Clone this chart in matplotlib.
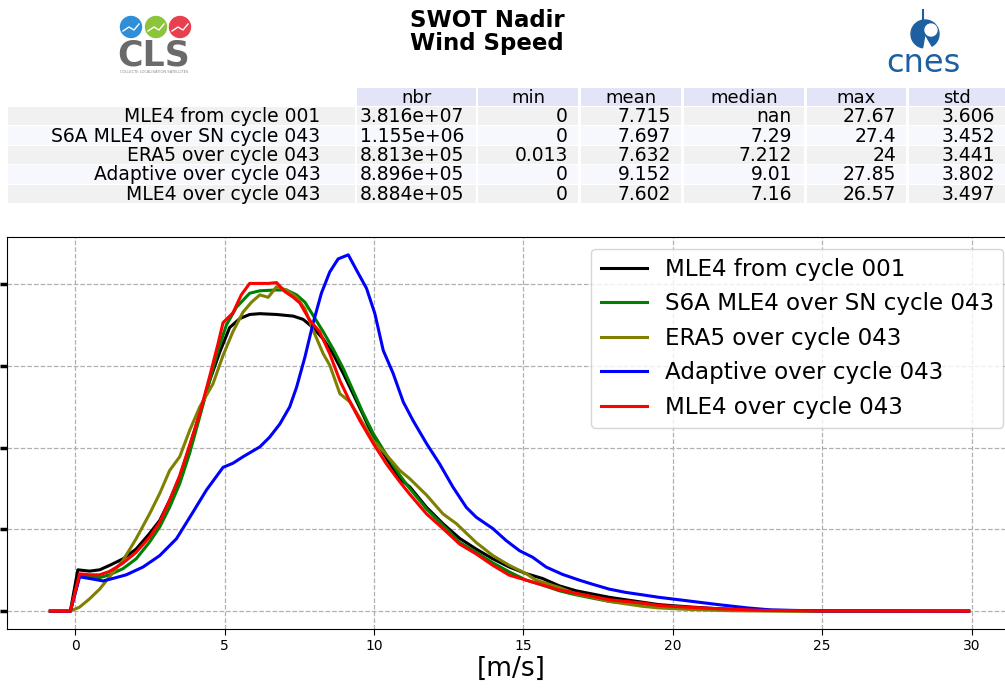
import matplotlib
matplotlib.use("Agg")
import matplotlib.pyplot as plt
from matplotlib.patches import Rectangle, Circle, Wedge

# ---- stats table ----
ROW_LABELS = ["MLE4 from cycle 001", "S6A MLE4 over SN cycle 043", "ERA5 over cycle 043",
              "Adaptive over cycle 043", "MLE4 over cycle 043"]
COLS = ["nbr", "min", "mean", "median", "max", "std"]
NBR = ["3.816e+07", "1.155e+06", "8.813e+05", "8.896e+05", "8.884e+05"]
MINS = ["0", "0", "0.013", "0", "0"]
MEANS = ["7.715", "7.697", "7.632", "9.152", "7.602"]
MEDIANS = ["nan", "7.29", "7.212", "9.01", "7.16"]
MAXS = ["27.67", "27.4", "24", "27.85", "26.57"]
STDS = ["3.606", "3.452", "3.441", "3.802", "3.497"]

# ---- wind speed histograms (% per bin) ----
x_mle4_001 = [-0.83, -0.16, 0.09, 0.48, 0.82, 1.15, 1.6, 2.04, 2.49, 2.83, 3.16, 3.5, 3.83, 4.17, 4.5,
              4.84, 5.17, 5.51, 5.84, 6.18, 6.74, 7.3, 7.63, 7.96, 8.3, 8.63, 8.97, 9.3, 9.64, 9.98,
              10.42, 10.87, 11.2, 11.76, 12.31, 12.87, 13.42, 13.98, 14.53, 15.09, 15.64, 16.2, 16.76,
              17.31, 17.87, 18.42, 18.98, 19.53, 20.64, 21.53, 23.0, 25.0, 29.9]
y_mle4_001 = [0, 0, 0.506, 0.49, 0.506, 0.56, 0.64, 0.76, 0.95, 1.11, 1.355, 1.64, 2.01, 2.42, 2.82,
              3.17, 3.47, 3.58, 3.63, 3.64, 3.63, 3.61, 3.57, 3.47, 3.33, 3.15, 2.91, 2.66, 2.40, 2.13,
              1.87, 1.62, 1.52, 1.27, 1.07, 0.89, 0.76, 0.64, 0.54, 0.46, 0.40, 0.31, 0.25,
              0.21, 0.17, 0.14, 0.11, 0.08, 0.05, 0.03, 0.012, 0.003, 0]

x_s6a = [-0.83, -0.16, 0.15, 0.48, 0.82, 1.15, 1.6, 2.04, 2.49, 2.83, 3.16, 3.5, 3.83, 4.17, 4.5,
         4.78, 5.06, 5.4, 5.84, 6.18, 6.74, 7.07, 7.41, 7.69, 7.96, 8.3, 8.63, 8.97, 9.3, 9.64,
         9.98, 10.42, 10.87, 11.2, 11.76, 12.31, 12.87, 13.42, 13.98, 14.53, 15.09, 15.64, 16.2,
         16.76, 17.31, 17.87, 18.42, 18.98, 19.53, 20.64, 21.53, 23.0, 25.0, 29.9]
y_s6a = [0, 0, 0.44, 0.42, 0.41, 0.445, 0.52, 0.64, 0.845, 1.03, 1.27, 1.56, 1.93, 2.38, 2.82,
         3.19, 3.50, 3.72, 3.89, 3.92, 3.93, 3.93, 3.87, 3.78, 3.62, 3.42, 3.21, 2.97, 2.70, 2.42,
         2.17, 1.91, 1.66, 1.50, 1.25, 1.05, 0.84, 0.72, 0.59, 0.48, 0.38, 0.32, 0.25,
         0.20, 0.16, 0.12, 0.10, 0.07, 0.05, 0.03, 0.02, 0.008, 0.002, 0]

x_era5 = [-0.83, -0.16, 0.15, 0.48, 0.82, 1.15, 1.6, 2.04, 2.49, 2.83, 3.16, 3.5, 3.83, 4.17, 4.61,
          4.95, 5.28, 5.62, 5.9, 6.18, 6.46, 6.74, 7.07, 7.41, 7.69, 7.96, 8.3, 8.52, 8.86, 9.2,
          9.53, 9.98, 10.42, 10.87, 11.2, 11.76, 12.31, 12.76, 13.42, 13.98, 14.53, 15.09, 15.42,
          16.2, 16.76, 17.31, 17.87, 18.42, 18.98, 19.53, 20.64, 22.0, 24.0, 29.9]
y_era5 = [0, 0, 0.05, 0.15, 0.27, 0.42, 0.62, 0.886, 1.19, 1.44, 1.72, 1.89, 2.21, 2.50, 2.78,
          3.13, 3.42, 3.66, 3.78, 3.87, 3.84, 3.97, 3.93, 3.84, 3.70, 3.44, 3.15, 3.01, 2.66, 2.56,
          2.36, 2.09, 1.91, 1.72, 1.62, 1.42, 1.19, 1.07, 0.84, 0.68, 0.56, 0.46, 0.38,
          0.29, 0.21, 0.17, 0.12, 0.09, 0.06, 0.04, 0.02, 0.005, 0, 0]

x_adaptive = [-0.83, -0.16, 0.15, 0.48, 0.93, 1.26, 1.71, 2.27, 2.83, 3.39, 3.94, 4.39, 4.95, 5.28,
              5.62, 6.18, 6.51, 6.85, 7.18, 7.41, 7.69, 7.96, 8.24, 8.52, 8.8, 9.14, 9.42, 9.75,
              10.03, 10.31, 10.64, 10.98, 11.31, 11.76, 12.2, 12.64, 13.09, 13.42, 13.98, 14.42,
              14.87, 15.31, 15.76, 16.31, 16.87, 17.31, 17.87, 18.42, 18.98, 19.53, 20.2, 20.64,
              21.53, 22.5, 23.3, 25.0, 29.9]
y_adaptive = [0, 0, 0.42, 0.40, 0.37, 0.40, 0.445, 0.54, 0.68, 0.886, 1.21, 1.48, 1.76, 1.81,
              1.89, 2.01, 2.13, 2.29, 2.50, 2.74, 3.11, 3.52, 3.89, 4.15, 4.31, 4.36, 4.17, 3.95,
              3.64, 3.19, 2.91, 2.56, 2.33, 2.05, 1.80, 1.52, 1.27, 1.15, 1.01, 0.865,
              0.74, 0.66, 0.54, 0.45, 0.38, 0.33, 0.27, 0.23, 0.20, 0.17, 0.14, 0.12,
              0.08, 0.04, 0.015, 0.003, 0]

x_mle4_043 = [-0.83, -0.16, 0.15, 0.48, 0.82, 1.15, 1.6, 2.04, 2.49, 2.83, 3.16, 3.5, 3.83, 4.17, 4.5,
              4.78, 4.95, 5.28, 5.56, 5.84, 6.18, 6.46, 6.74, 7.02, 7.3, 7.52, 7.85, 8.18, 8.52, 8.86,
              9.2, 9.53, 9.98, 10.42, 10.87, 11.2, 11.76, 12.31, 12.87, 13.42, 13.98, 14.53, 15.09,
              15.64, 16.2, 16.76, 17.31, 17.87, 18.42, 18.98, 19.53, 20.64, 21.53, 23.0, 25.0, 29.9]
y_mle4_043 = [0, 0, 0.457, 0.445, 0.445, 0.486, 0.588, 0.72, 0.906, 1.09, 1.355, 1.66, 2.03, 2.42, 2.87,
              3.27, 3.53, 3.65, 3.87, 4.01, 4.01, 4.01, 4.02, 3.91, 3.84, 3.77, 3.56, 3.42, 3.15, 2.82,
              2.56, 2.33, 2.05, 1.80, 1.58, 1.43, 1.19, 1.01, 0.82, 0.70, 0.56, 0.44, 0.38,
              0.32, 0.26, 0.22, 0.18, 0.14, 0.12, 0.10, 0.07, 0.045, 0.03, 0.01, 0.003, 0]

SERIES = [
    (x_mle4_001, y_mle4_001, "black", ROW_LABELS[0]),
    (x_s6a, y_s6a, "green", ROW_LABELS[1]),
    (x_era5, y_era5, "olive", ROW_LABELS[2]),
    (x_adaptive, y_adaptive, "blue", ROW_LABELS[3]),
    (x_mle4_043, y_mle4_043, "red", ROW_LABELS[4]),
]

W, H = 1005, 691
fig = plt.figure(figsize=(W / 100, H / 100), dpi=100)

# header overlay in pixel coordinates
hdr = fig.add_axes([0, 0, 1, 1])
hdr.set_xlim(0, W)
hdr.set_ylim(H, 0)
hdr.axis("off")

hdr.text(487, 20, "SWOT Nadir", ha="center", va="center", fontsize=16.5, fontweight="bold")
hdr.text(487, 43, "Wind Speed", ha="center", va="center", fontsize=16.5, fontweight="bold")

# CLS logo (approximation)
for cx, col in [(131, "#2e8fd8"), (156, "#8cc43c"), (180, "#e9404f")]:
    hdr.add_patch(Circle((cx, 27), 10.5, color=col))
    hdr.plot([cx - 8, cx - 2, cx + 3, cx + 8], [31, 27, 30, 24], color="white", lw=1)
hdr.text(154, 55, "CLS", ha="center", va="center", fontsize=25, fontweight="bold", color="#6a6a6a")
hdr.text(154, 72, "COLLECTE LOCALISATION SATELLITES", ha="center", va="center", fontsize=2.6,
         color="#888888")

# CNES logo (approximation)
hdr.add_patch(Wedge((925, 34), 14, 100, 420, color="#1d5fa0"))
hdr.add_patch(Circle((931, 30), 6, color="white"))
hdr.plot([923, 923], [10, 24], color="#1d5fa0", lw=1.5)
hdr.text(923, 63, "cnes", ha="center", va="center", fontsize=23, color="#1d5fa0")

# stats table
label_x0, label_x1 = 8, 355
col_x0 = [357, 478, 581, 684, 807, 909]
col_x1 = [476, 578, 681, 804, 906, 1005]
head_y0, head_h = 88, 18
row_y0, row_h = 107, 19.4
row_colors = ["#f1f1f1", "#f7f7fe"]
hfont = 13
bfont = 13.5

for j, name in enumerate(COLS):
    hdr.add_patch(Rectangle((col_x0[j], head_y0), col_x1[j] - col_x0[j], head_h,
                            facecolor="#e4e4f8", edgecolor="none"))
    hdr.text((col_x0[j] + col_x1[j]) / 2, head_y0 + head_h / 2 + 0.5, name,
             ha="center", va="center", fontsize=hfont)

columns = [NBR, MINS, MEANS, MEDIANS, MAXS, STDS]
for i, lab in enumerate(ROW_LABELS):
    y0 = row_y0 + i * row_h
    yc = y0 + row_h / 2
    fc = row_colors[i % 2]
    hdr.add_patch(Rectangle((label_x0, y0), label_x1 - label_x0, row_h - 1,
                            facecolor=fc, edgecolor="none"))
    hdr.text(label_x1 - 0.1 * (label_x1 - label_x0), yc, lab, ha="right", va="center",
             fontsize=bfont)
    for j, vals in enumerate(columns):
        w = col_x1[j] - col_x0[j]
        hdr.add_patch(Rectangle((col_x0[j], y0), w, row_h - 1, facecolor=fc, edgecolor="none"))
        hdr.text(col_x1[j] - 0.1 * w, yc, vals[i], ha="right", va="center", fontsize=bfont)

# main plot (right spine falls just outside the canvas, as in the source crop)
ax = fig.add_axes([7 / W, 1 - 629 / H, (1015 - 7) / W, (629 - 237) / H])
for xs, ys, col, lab in SERIES:
    ax.plot(xs, ys, color=col, lw=2.2, label=lab)

ax.set_xlim(-2.28, 31.45)
ax.set_ylim(-0.218, 4.578)
ax.set_xticks([0, 5, 10, 15, 20, 25, 30])
ax.set_yticks([0, 1, 2, 3, 4])
ax.tick_params(axis="x", labelsize=10, length=4, width=0.8)
ax.tick_params(axis="y", labelleft=False, length=5, width=2.5)
ax.grid(True, linestyle="--", color="#b0b0b0", lw=0.9)
ax.set_xlabel("[m/s]", fontsize=19, labelpad=2)
ax.legend(loc="upper right", fontsize=16.6)

fig.savefig("out.png", dpi=100)
